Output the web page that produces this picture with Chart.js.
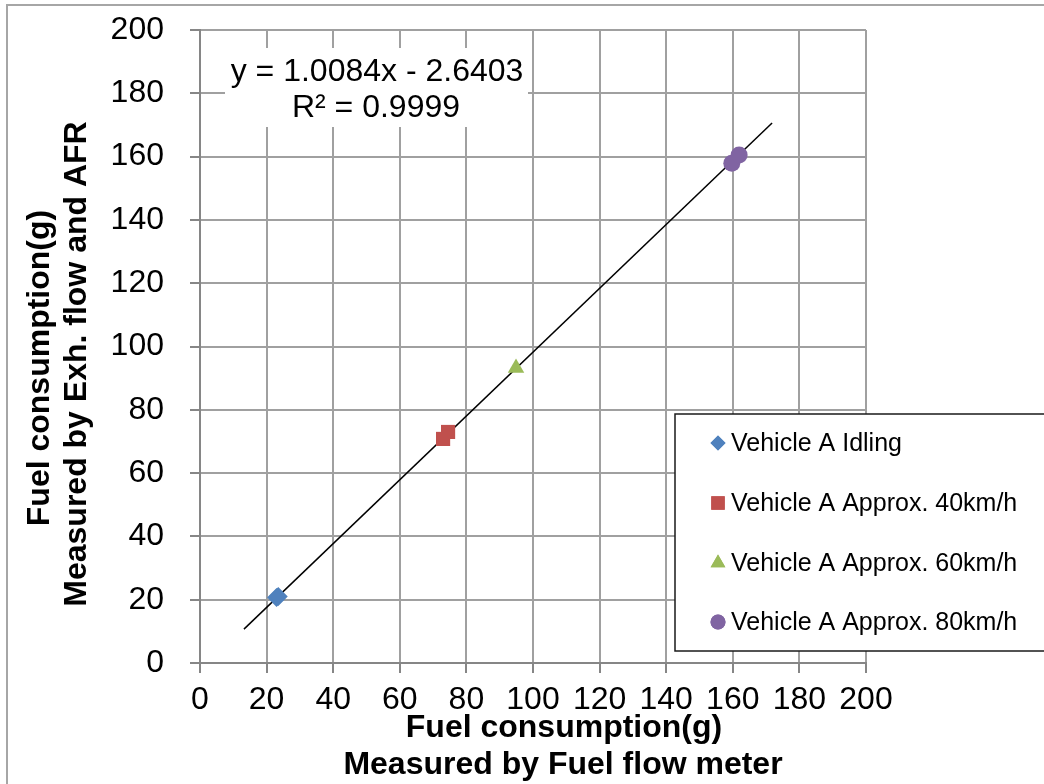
<!DOCTYPE html>
<html>
<head>
<meta charset="utf-8">
<script src="https://cdn.jsdelivr.net/npm/chart.js@4/dist/chart.umd.min.js"></script>
<style>
html,body{margin:0;padding:0;background:#fff;}
#wrap{width:1044px;height:784px;position:relative;}
</style>
</head>
<body>
<div id="wrap"><canvas id="c"></canvas></div>
<script>
// ---- data ----
const seriesLabels = ["Vehicle A Idling", "Vehicle A Approx. 40km/h", "Vehicle A Approx. 60km/h", "Vehicle A Approx. 80km/h"];
const idlingX = [23.0, 23.5];
const idlingY = [20.7, 21.0];
const kmh40X = [73.0, 74.5];
const kmh40Y = [70.8, 73.0];
const kmh60X = [94.9];
const kmh60Y = [93.2];
const kmh80X = [159.7, 161.9];
const kmh80Y = [157.9, 160.5];
const trendX = [13.2, 171.8];
const trendY = [10.7, 170.6];
const axisTicks = [0, 20, 40, 60, 80, 100, 120, 140, 160, 180, 200];
const equationLines = ["y = 1.0084x - 2.6403", "R\u00B2 = 0.9999"];
const xTitleLines = ["Fuel consumption(g)", "Measured by Fuel flow meter"];
const yTitleLines = ["Fuel consumption(g)", "Measured by Exh. flow and AFR"];

const FONT = "'Liberation Sans', Arial, sans-serif";
const toPts = (xs, ys) => xs.map((x, i) => ({x: x, y: ys[i]}));

const styles = [
  {color: '#4F81BD', pointStyle: 'rectRot', radius: 9.5, legendRadius: 7.5},
  {color: '#C0504D', pointStyle: 'rect', radius: 10, legendRadius: 9.5},
  {color: '#9BBB59', pointStyle: 'triangle', radius: 9.5, legendRadius: 8.5},
  {color: '#8064A2', pointStyle: 'circle', radius: 8.5, legendRadius: 7.5}
];
const pts = [toPts(idlingX, idlingY), toPts(kmh40X, kmh40Y), toPts(kmh60X, kmh60Y), toPts(kmh80X, kmh80Y)];

const datasets = pts.map((d, i) => ({
  type: 'scatter',
  label: seriesLabels[i],
  data: d,
  backgroundColor: styles[i].color,
  borderColor: styles[i].color,
  borderWidth: 0,
  pointStyle: styles[i].pointStyle,
  pointRadius: styles[i].radius,
  pointHoverRadius: styles[i].radius,
  order: 1
}));
datasets.push({
  type: 'line',
  label: 'trend',
  data: toPts(trendX, trendY),
  borderColor: '#000',
  borderWidth: 1.5,
  pointRadius: 0,
  fill: false,
  order: 2
});

const decor = {
  id: 'decor',
  beforeDraw(chart) {
    const ctx = chart.ctx;
    ctx.save();
    ctx.fillStyle = '#fff';
    ctx.fillRect(0, 0, chart.width, chart.height);
    ctx.strokeStyle = '#A6A6A6';
    ctx.lineWidth = 2;
    ctx.strokeRect(7, 5, 1100, 900);
    ctx.restore();
  },
  afterDraw(chart) {
    const ctx = chart.ctx;
    ctx.save();
    // equation box
    ctx.fillStyle = '#fff';
    ctx.fillRect(225, 48, 303, 79);
    ctx.fillStyle = '#000';
    ctx.font = '32px ' + FONT;
    ctx.textAlign = 'center';
    ctx.textBaseline = 'alphabetic';
    ctx.fillText(equationLines[0], 377, 81);
    ctx.fillText(equationLines[1], 376, 117);

    // axis titles
    ctx.font = 'bold 32px ' + FONT;
    ctx.textBaseline = 'middle';
    ctx.fillText(xTitleLines[0], 564, 728);
    ctx.fillText(xTitleLines[1], 563, 765);
    ctx.save();
    ctx.translate(40, 368);
    ctx.rotate(-Math.PI / 2);
    ctx.fillText(yTitleLines[0], 0, 0);
    ctx.restore();
    ctx.save();
    ctx.translate(77, 364);
    ctx.rotate(-Math.PI / 2);
    ctx.fillText(yTitleLines[1], 0, 0);
    ctx.restore();

    // legend
    ctx.fillStyle = '#fff';
    ctx.fillRect(675, 414, 400, 237);
    ctx.strokeStyle = '#1a1a1a';
    ctx.lineWidth = 1.5;
    ctx.strokeRect(675, 414, 400, 237);
    const ys = [443, 503, 563, 622];
    ctx.font = '25px ' + FONT;
    ctx.textAlign = 'left';
    ctx.textBaseline = 'middle';
    for (let i = 0; i < 4; i++) {
      ctx.fillStyle = styles[i].color;
      Chart.helpers.drawPoint(ctx, {pointStyle: styles[i].pointStyle, radius: styles[i].legendRadius, rotation: 0, borderWidth: 0}, 718, ys[i]);
      ctx.fill();
      ctx.fillStyle = '#000';
      ctx.fillText(chart.data.datasets[i].label, 731, ys[i] + 1);
    }
    ctx.restore();
  }
};

function zeroPad(s) { s.paddingTop = 0; s.paddingBottom = 0; s.paddingLeft = 0; s.paddingRight = 0; }

new Chart(document.getElementById('c'), {
  data: {datasets: datasets},
  options: {
    responsive: true,
    maintainAspectRatio: false,
    animation: false,
    events: [],
    layout: {padding: {left: 0, top: 30, right: 178, bottom: 0}},
    plugins: {legend: {display: false}, tooltip: {enabled: false}},
    scales: {
      x: {
        type: 'linear', min: 0, max: 200,
        afterFit: s => { s.height = 121; zeroPad(s); },
        afterBuildTicks: s => { s.ticks = axisTicks.map(v => ({value: v})); },
        ticks: {stepSize: 20, color: '#000', padding: 8, maxRotation: 0, font: {family: FONT, size: 32}},
        grid: {color: '#A0A0A0', lineWidth: 2, tickLength: 10, tickColor: '#868686'},
        border: {color: '#868686', width: 2}
      },
      y: {
        type: 'linear', min: 0, max: 200,
        afterFit: s => { s.width = 200; zeroPad(s); },
        afterBuildTicks: s => { s.ticks = axisTicks.map(v => ({value: v})); },
        ticks: {stepSize: 20, color: '#000', padding: 26, font: {family: FONT, size: 32}},
        grid: {color: '#A0A0A0', lineWidth: 2, tickLength: 10, tickColor: '#868686'},
        border: {color: '#868686', width: 2}
      }
    }
  },
  plugins: [decor]
});
</script>
</body>
</html>
